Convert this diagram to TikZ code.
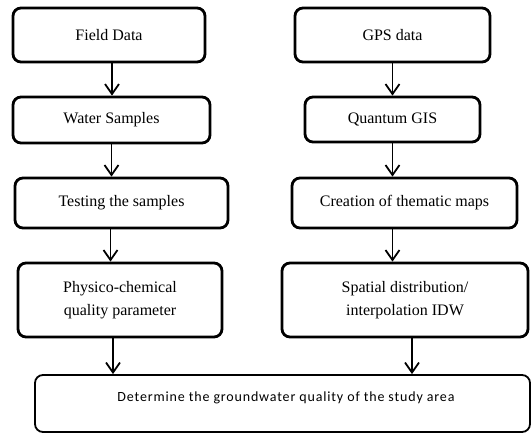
\documentclass[tikz,border=0pt]{standalone}
\usepackage{fontspec}
\setmainfont{Liberation Serif}
\newfontfamily\finalfont{Carlito}[LetterSpace=6]
\usetikzlibrary{arrows.meta,positioning,calc}

\begin{document}
\begin{tikzpicture}
[x=1pt,y=-1pt,
stepbox/.style={rectangle,rounded corners=8pt,draw=black,line width=2.8pt,
  inner sep=2pt,align=center,font=\fontsize{16}{23}\selectfont},
finalbox/.style={rectangle,rounded corners=8pt,draw=black,line width=1.8pt},
finallabel/.style={font=\finalfont\fontsize{14}{16}\selectfont},
flow/.style={-{Straight Barb[length=10pt,width=14pt,line width=1.8pt]},line width=1.8pt}]
\useasboundingbox (0,0) rectangle (531,434);
% left column
\node[stepbox,minimum width=192pt,minimum height=54pt] (field) at (109,35) {Field Data};
\node[stepbox,minimum width=197pt,minimum height=46pt] (water) at (111.5,120) {Water Samples};
\node[stepbox,minimum width=213pt,minimum height=50pt] (testing) at (121.5,203) {Testing the samples};
\node[stepbox,minimum width=204pt,minimum height=74pt] (physico) at (120,300) {Physico-chemical\\quality parameter};
% right column
\node[stepbox,minimum width=195pt,minimum height=54pt] (gps) at (392.5,35) {GPS data};
\node[stepbox,minimum width=175pt,minimum height=45pt] (qgis) at (392.5,119.5) {Quantum GIS};
\node[stepbox,minimum width=225pt,minimum height=50pt] (creation) at (404.5,203) {Creation of thematic maps};
\node[stepbox,minimum width=246pt,minimum height=74pt] (spatial) at (405,300) {Spatial distribution/\\interpolation IDW};
% result
\node[finalbox,minimum width=495pt,minimum height=57pt] (final) at (282.5,403.5) {};
\node[finallabel] (finaltext) at (286,398) {Determine the groundwater quality of the study area};
% arrows
\draw[flow] ([xshift=3pt]field.south) -- ([xshift=3pt]field.south |- water.north);
\draw[flow] (water.south) -- (water.south |- testing.north);
\draw[flow] ([xshift=-11pt]testing.south) -- ([xshift=-11pt]testing.south |- physico.north);
\draw[flow] ([xshift=-7pt]physico.south) -- ([xshift=-7pt]physico.south |- final.north);
\draw[flow] (gps.south) -- (gps.south |- qgis.north);
\draw[flow] (qgis.south) -- (qgis.south |- creation.north);
\draw[flow] (creation.south -| qgis) -- (qgis |- spatial.north);
\draw[flow] ([xshift=7pt]spatial.south) -- ([xshift=7pt]spatial.south |- final.north);
\end{tikzpicture}
\end{document}
